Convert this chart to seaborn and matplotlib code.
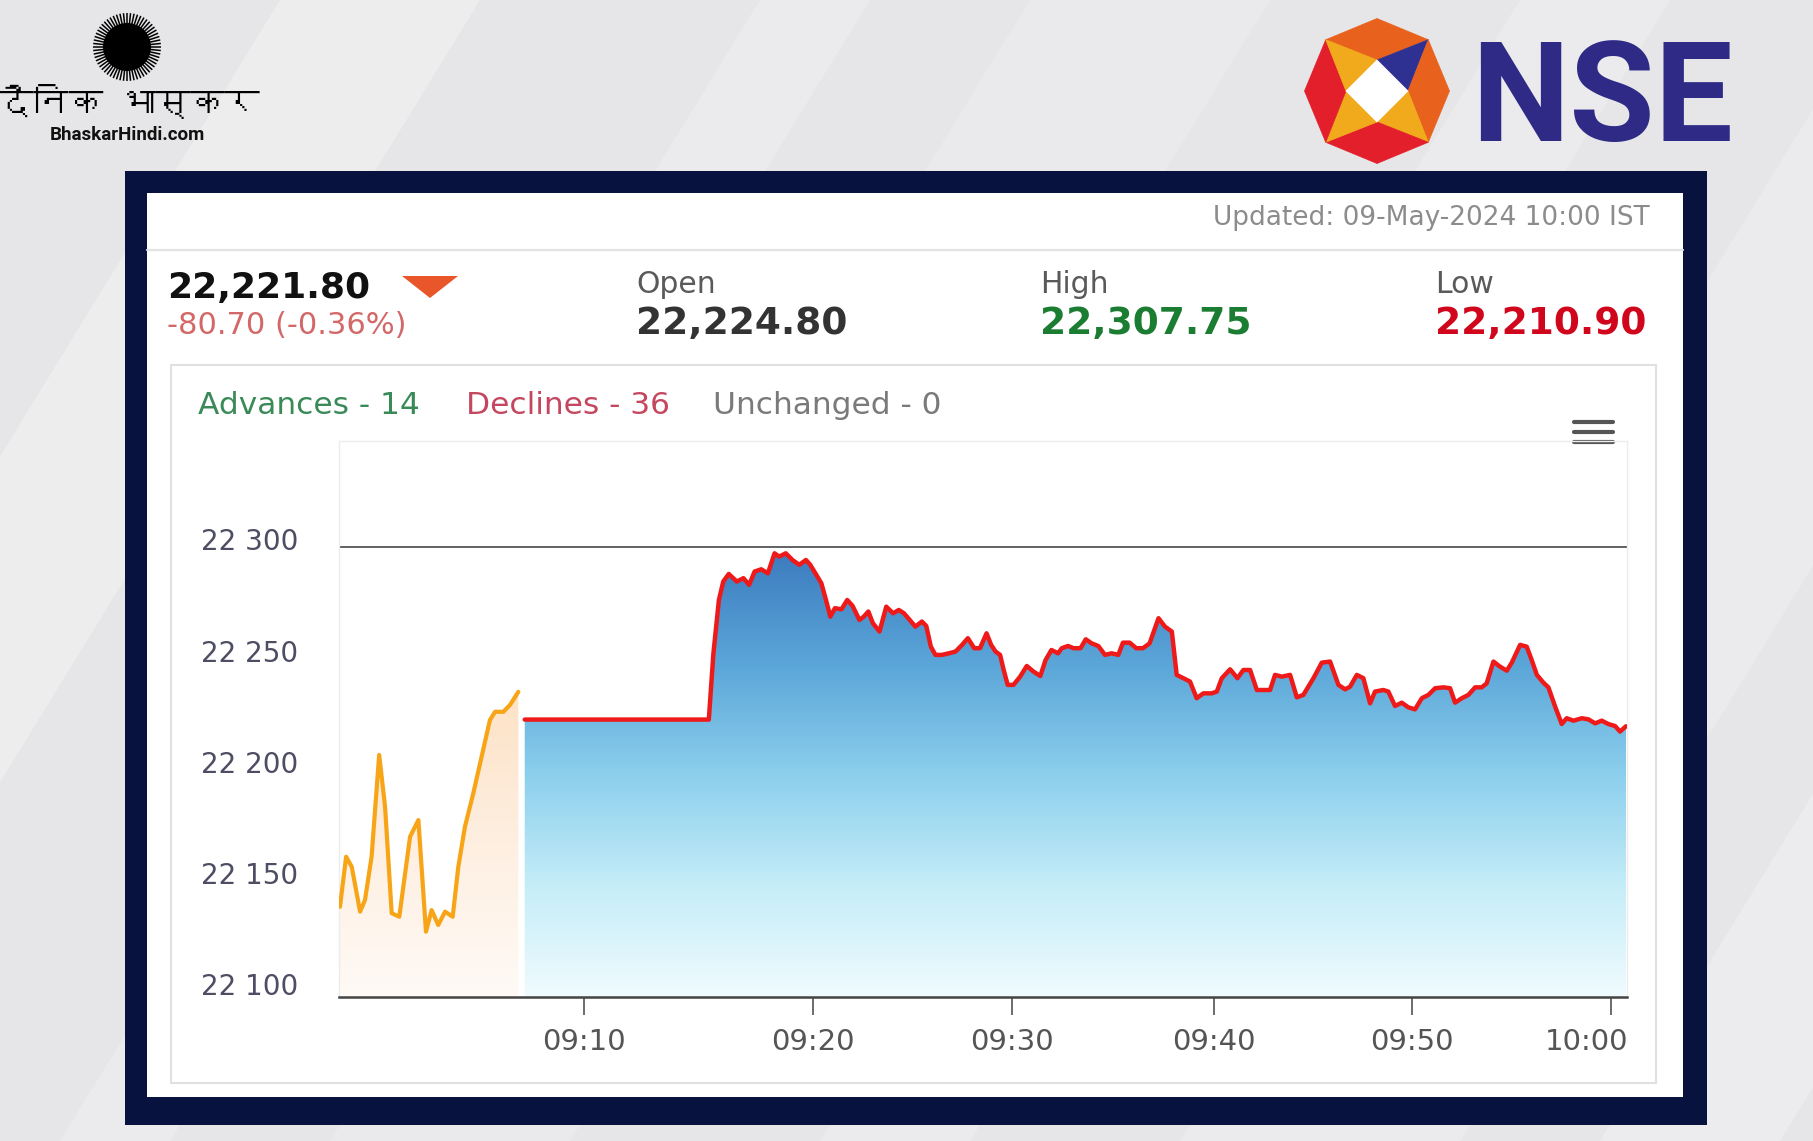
import numpy as np
import matplotlib
matplotlib.use("Agg")
import matplotlib.pyplot as plt
import seaborn as sns
from matplotlib import transforms, font_manager, ft2font
from matplotlib.patches import Rectangle, Polygon, Circle
from matplotlib.colors import LinearSegmentedColormap

# ------------------------------------------------------------------ data
UPDATED = "Updated: 09-May-2024 10:00 IST"
LAST_PRICE = 22221.80
PREV_CLOSE = 22302.50
OPEN_PRICE = 22224.80
HIGH_PRICE = 22307.75
LOW_PRICE = 22210.90
ADVANCES, DECLINES, UNCHANGED = 14, 36, 0

# pre-open session (minutes after 09:00)
PREOPEN_MIN = [0.04, 0.29, 0.52, 0.86, 1.06, 1.33, 1.64, 1.88, 2.15, 2.46, 2.90, 3.24, 3.55,
               3.78, 4.05, 4.33, 4.64, 4.87, 5.14, 5.48, 5.82, 6.16, 6.37, 6.71, 6.98, 7.32]
PREOPEN_VAL = [22140.6, 22163.1, 22158.6, 22138.4, 22143.6, 22163.1, 22208.9, 22185.6, 22137.7,
               22136.1, 22172.1, 22179.6, 22129.4, 22139.1, 22132.4, 22138.4, 22136.1, 22158.6,
               22176.6, 22191.6, 22208.1, 22224.6, 22228.3, 22228.3, 22231.4, 22237.3]

# normal market (minutes after 09:00)
MARKET_MIN = [7.58, 15.45, 15.65, 15.89, 16.08, 16.32, 16.67, 16.96, 17.21, 17.45,
              17.74, 18.03, 18.32, 18.52, 18.81, 19.10, 19.40, 19.69, 19.88, 20.42,
              20.65, 20.87, 21.10, 21.43, 21.72, 21.99, 22.33, 22.55, 22.78, 23.01,
              23.34, 23.68, 24.02, 24.31, 24.57, 24.86, 25.14, 25.47, 25.69, 25.92,
              26.15, 26.48, 26.82, 27.16, 27.49, 27.78, 28.10, 28.39, 28.72, 28.95,
              29.17, 29.40, 29.58, 29.78, 30.07, 30.40, 30.73, 31.06, 31.40, 31.66,
              31.95, 32.28, 32.46, 32.77, 33.05, 33.39, 33.65, 33.94, 34.27, 34.60,
              34.93, 35.26, 35.49, 35.82, 36.15, 36.48, 36.81, 37.25, 37.57, 37.91,
              38.15, 38.48, 38.81, 39.14, 39.47, 39.89, 40.14, 40.39, 40.81, 41.18,
              41.48, 41.82, 42.16, 42.58, 42.83, 43.08, 43.42, 43.84, 44.18, 44.51,
              45.02, 45.44, 45.86, 46.28, 46.62, 46.87, 47.21, 47.54, 47.88, 48.13,
              48.55, 48.80, 49.14, 49.48, 49.81, 50.15, 50.49, 50.82, 51.16, 51.58,
              51.91, 52.16, 52.50, 52.83, 53.17, 53.50, 53.75, 54.09, 54.42, 54.76,
              55.01, 55.43, 55.76, 56.01, 56.27, 56.60, 56.85, 57.19, 57.52, 57.77,
              58.11, 58.53, 58.86, 59.20, 59.53, 59.86, 60.20, 60.45, 60.75]
MARKET_VAL = [22224.8, 22224.8, 22254.6, 22278.6, 22286.9, 22290.3, 22286.9, 22288.4, 22285.4, 22291.4,
              22292.4, 22290.6, 22299.6, 22298.1, 22299.6, 22296.6, 22294.4, 22296.6, 22294.4, 22286.1,
              22278.6, 22271.1, 22274.9, 22274.4, 22278.6, 22275.9, 22269.6, 22271.1, 22273.4, 22268.1,
              22264.4, 22275.6, 22272.6, 22274.1, 22272.6, 22269.6, 22266.6, 22268.9, 22266.9, 22257.6,
              22253.9, 22253.9, 22254.6, 22255.4, 22258.4, 22261.4, 22256.9, 22256.9, 22263.6, 22258.4,
              22255.4, 22253.9, 22247.1, 22240.4, 22240.4, 22244.1, 22248.9, 22246.4, 22244.4, 22251.6,
              22256.1, 22254.6, 22256.9, 22257.9, 22256.9, 22256.9, 22260.9, 22259.1, 22257.9, 22253.9,
              22254.6, 22253.9, 22259.4, 22259.4, 22256.9, 22256.9, 22259.1, 22270.4, 22266.6, 22264.4,
              22244.9, 22243.4, 22241.9, 22234.4, 22236.6, 22236.6, 22237.4, 22243.4, 22247.4, 22243.4,
              22247.1, 22247.1, 22238.1, 22238.1, 22238.1, 22244.9, 22244.1, 22244.9, 22234.8, 22235.9,
              22243.4, 22250.4, 22250.9, 22240.4, 22238.4, 22239.6, 22244.9, 22243.4, 22232.1, 22237.4,
              22238.1, 22237.4, 22230.9, 22232.4, 22230.3, 22229.4, 22234.4, 22235.9, 22238.9, 22239.3,
              22238.9, 22232.4, 22234.4, 22235.9, 22239.3, 22239.3, 22241.1, 22250.9, 22248.6, 22246.8,
              22250.4, 22258.4, 22257.6, 22251.6, 22244.9, 22241.4, 22239.3, 22230.6, 22222.8, 22225.4,
              22224.3, 22225.4, 22224.9, 22223.1, 22224.3, 22222.8, 22221.9, 22219.4, 22221.8]

TICK_MIN = [10, 20, 30, 40, 50, 60]
TICK_LABELS = ["09:10", "09:20", "09:30", "09:40", "09:50", "10:00"]
YTICKS = [22100, 22150, 22200, 22250, 22300]

# ordinal-like time axis (relative width of every 10-minute block, as drawn by the source)
AXIS_BREAK_MIN = [0, 10, 20, 30, 40, 50, 60]
AXIS_BREAK_POS = [0, 245, 474, 673, 875, 1073, 1272]
Y_LO, Y_HI = 22100, 22350
X_LO, X_HI = 0, 60.8

BM = np.array(AXIS_BREAK_MIN, float)
BP = np.array(AXIS_BREAK_POS, float)
S_LO, S_HI = 24.5, 19.9


def fwd(t):
    t = np.asarray(t, dtype=float)
    out = np.interp(t, BM, BP)
    out = np.where(t > BM[-1], BP[-1] + (t - BM[-1]) * S_HI, out)
    out = np.where(t < BM[0], BP[0] + (t - BM[0]) * S_LO, out)
    return out


def inv(p):
    p = np.asarray(p, dtype=float)
    out = np.interp(p, BP, BM)
    out = np.where(p > BP[-1], BM[-1] + (p - BP[-1]) / S_HI, out)
    out = np.where(p < BP[0], BM[0] + (p - BP[0]) / S_LO, out)
    return out


def find_font(ch):
    cp = ord(ch)
    seen = set()
    for f in font_manager.fontManager.ttflist:
        if f.fname in seen:
            continue
        seen.add(f.fname)
        try:
            if cp in ft2font.FT2Font(f.fname).get_charmap():
                return f.name
        except Exception:
            pass
    return None


# ------------------------------------------------------------------ style
sns.set_theme(style="white")
plt.rcParams["font.family"] = ["DejaVu Sans"]

W, H = 1813, 1141
fig = plt.figure(figsize=(W / 100, H / 100), dpi=100)
fig.patch.set_facecolor("#e6e6e8")

bg = fig.add_axes([0, 0, 1, 1], zorder=0)
bg.set_xlim(0, W)
bg.set_ylim(H, 0)
bg.axis("off")

# soft diagonal streaks in the backdrop
for x0, w, a in [(-420, 200, 0.30), (60, 110, 0.22), (330, 240, 0.18), (820, 150, 0.22),
                 (1180, 280, 0.22), (1600, 180, 0.28)]:
    bg.add_patch(Polygon([(x0, H), (x0 + w, H), (x0 + w + 700, 0), (x0 + 700, 0)],
                         closed=True, facecolor="white", edgecolor="none", alpha=a))

# Dainik Bhaskar logo
scx, scy = 127, 47
for k in range(60):
    a = 2 * np.pi * k / 60
    bg.plot([scx + 18 * np.cos(a), scx + 34 * np.cos(a)],
            [scy + 18 * np.sin(a), scy + 34 * np.sin(a)], color="black", lw=1.1,
            solid_capstyle="butt")
bg.add_patch(Circle((scx, scy), 24, facecolor="black", edgecolor="none"))
deva = find_font("\u0926")
fam = [deva, "DejaVu Sans"] if deva else ["DejaVu Sans"]
bg.text(129, 115, "दैनिक भास्कर", family=fam, weight="heavy", fontsize=25,
        ha="center", va="baseline", color="black")
bg.text(127, 140, "BhaskarHindi.com", family=["Roboto", "DejaVu Sans"], weight="bold",
        fontsize=13.5, ha="center", va="baseline", color="#111111")

# NSE logo
cx, cy, R, d = 1377, 91, 72.5, 31
r2 = R * np.sqrt(0.5)
N, NE, E, SE = (cx, cy - R), (cx + r2, cy - r2), (cx + R, cy), (cx + r2, cy + r2)
S, SW, Wv, NW = (cx, cy + R), (cx - r2, cy + r2), (cx - R, cy), (cx - r2, cy - r2)
dT, dR, dB, dL = (cx, cy - d), (cx + d, cy), (cx, cy + d), (cx - d, cy)
ORANGE, RED, YEL, BLUE = "#e8621d", "#e31f2b", "#f1aa1b", "#2f3192"
for pts, col in [([NW, N, NE, dT], ORANGE), ([NE, dR, dT], BLUE), ([NE, E, SE, dR], ORANGE),
                 ([SE, dB, dR], YEL), ([SE, S, SW, dB], RED), ([SW, dL, dB], YEL),
                 ([SW, Wv, NW, dL], RED), ([NW, dT, dL], YEL), ([dT, dR, dB, dL], "white")]:
    bg.add_patch(Polygon(pts, closed=True, facecolor=col, edgecolor=col, lw=0.5))
bg.text(1471, 141, "NSE", family=["Roboto", "DejaVu Sans"], weight="bold", fontsize=100,
        color="#2e2a86", ha="left", va="baseline")

# frame and panels
bg.add_patch(Rectangle((125, 171), 1582, 954, facecolor="#07123f", edgecolor="none"))
bg.add_patch(Rectangle((147, 193), 1536, 904, facecolor="white", edgecolor="none"))
bg.plot([147, 1683], [250, 250], color="#e3e3e3", lw=1.6)
bg.add_patch(Rectangle((171, 365), 1485, 718, facecolor="white", edgecolor="#e0e0e0", lw=1.5))

# header texts
bg.text(1650, 225, UPDATED, fontsize=19, color="#8c8c8c", ha="right", va="baseline")
bg.text(167, 298, f"{LAST_PRICE:,.2f}", fontsize=26, weight="bold", color="#111111",
        ha="left", va="baseline")
bg.add_patch(Polygon([(402, 276), (458, 276), (430, 298)], closed=True,
                     facecolor="#e8562a", edgecolor="none"))
chg = LAST_PRICE - PREV_CLOSE
pct = chg / PREV_CLOSE * 100
bg.text(167, 334, f"{chg:.2f} ({pct:.2f}%)", fontsize=22, color="#d36868",
        ha="left", va="baseline")
for x, lab, val, col in [(636, "Open", OPEN_PRICE, "#333333"),
                         (1040, "High", HIGH_PRICE, "#1b7d32"),
                         (1435, "Low", LOW_PRICE, "#d0061d")]:
    bg.text(x, 293, lab, fontsize=21.5, color="#5a5a5a", ha="left", va="baseline")
    bg.text(x, 334, f"{val:,.2f}", fontsize=27, weight="bold", color=col,
            ha="left", va="baseline")

# breadth line
bg.text(198, 414, f"Advances - {ADVANCES}", fontsize=22.5, color="#3a8a58", ha="left", va="baseline")
bg.text(466, 414, f"Declines - {DECLINES}", fontsize=22.5, color="#c4475f", ha="left", va="baseline")
bg.text(713, 414, f"Unchanged - {UNCHANGED}", fontsize=22.5, color="#7a7a7a", ha="left", va="baseline")

# menu icon
for yy in (422, 432, 442):
    bg.plot([1574, 1613], [yy, yy], color="#555555", lw=3, solid_capstyle="round")

# ------------------------------------------------------------------ chart
ax = fig.add_axes([339 / W, 1 - 997 / H, 1288 / W, (997 - 441.25) / H], zorder=2)
ax.patch.set_alpha(0)
ax.set_xscale("function", functions=(fwd, inv))


def gradient_fill(x, y, colors, z):
    poly = ax.fill_between(x, y, Y_LO, facecolor="none", edgecolor="none", zorder=z)
    top = (max(y) - Y_LO) / (Y_HI - Y_LO)
    cmap = LinearSegmentedColormap.from_list("g", colors)
    grad = np.linspace(0, 1, 256).reshape(-1, 1)
    im = ax.imshow(grad, cmap=cmap, aspect="auto", origin="upper", extent=(0, 1, 0, top),
                   transform=ax.transAxes, zorder=z, interpolation="bilinear")
    im.set_clip_path(poly.get_paths()[0], ax.transData)


gradient_fill(PREOPEN_MIN, PREOPEN_VAL, ["#fde2c6", "#feefe1", "#fffaf6"], 1)
gradient_fill(MARKET_MIN, MARKET_VAL, ["#3c7cbf", "#5ba6d9", "#8ccfed", "#c5edf8", "#f0fbfe"], 1)

ax.axhline(PREV_CLOSE, color="#555555", lw=1.3, zorder=2)
sns.lineplot(x=PREOPEN_MIN, y=PREOPEN_VAL, ax=ax, color="#f7a416", linewidth=3.0,
             sort=False, estimator=None, zorder=4)
sns.lineplot(x=MARKET_MIN, y=MARKET_VAL, ax=ax, color="#ee1a1a", linewidth=3.2,
             sort=False, estimator=None, zorder=4)

ax.set_xlim(X_LO, X_HI)
ax.set_ylim(Y_LO, Y_HI)
ax.grid(False)
ax.set_xlabel("")
ax.set_ylabel("")

ax.set_yticks(YTICKS)
ax.set_yticklabels([f"{v:,}".replace(",", " ") for v in YTICKS])
ax.tick_params(axis="y", left=False, length=0, pad=29.5, labelsize=20, labelcolor="#4d4d63")
ax.set_xticks(TICK_MIN)
ax.set_xticklabels(TICK_LABELS)
ax.tick_params(axis="x", bottom=True, length=13, width=1.1, color="#444444", direction="out",
               pad=25, labelsize=21, labelcolor="#555555")
for lab in ax.get_yticklabels():
    lab.set_va("baseline")
    lab.set_transform(lab.get_transform() +
                      transforms.ScaledTranslation(0, 2 / 100, fig.dpi_scale_trans))
for lab in ax.get_xticklabels():
    lab.set_va("baseline")
last = ax.get_xticklabels()[-1]
last.set_transform(last.get_transform() +
                   transforms.ScaledTranslation(-25 / 100, 0, fig.dpi_scale_trans))

for s in ["top", "left", "right"]:
    ax.spines[s].set_color("#ececec")
    ax.spines[s].set_linewidth(1.0)
ax.spines["bottom"].set_color("#444444")
ax.spines["bottom"].set_linewidth(1.8)

fig.savefig("out.png", dpi=100, facecolor=fig.get_facecolor())
